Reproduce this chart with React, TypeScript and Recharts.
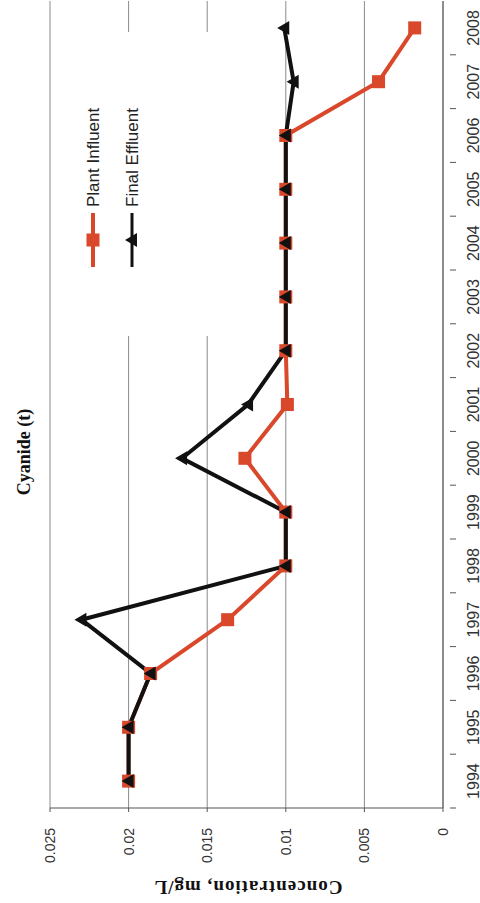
import { LineChart, Line, XAxis, YAxis, CartesianGrid } from "recharts";

// page is a scanned chart turned on its side: years run up the right edge,
// concentration runs right-to-left along the bottom
const years = ["1994", "1995", "1996", "1997", "1998", "1999", "2000", "2001", "2002", "2003", "2004", "2005", "2006", "2007", "2008"];
const plantInfluent = [0.02, 0.02, 0.0186, 0.0137, 0.01, 0.01, 0.0126, 0.0099, 0.01, 0.01, 0.01, 0.01, 0.01, 0.0041, 0.0018];
const finalEffluent = [0.02, 0.02, 0.0186, 0.023, 0.01, 0.01, 0.0166, 0.0124, 0.01, 0.01, 0.01, 0.01, 0.01, 0.0095, 0.0101];
const concTicks = [0, 0.005, 0.01, 0.015, 0.02, 0.025];
const concLabels = ["0", "0.005", "0.01", "0.015", "0.02", "0.025"];

const W = 480;
const H = 903;
const TOP = 1;
const BOTTOM_AXIS = 95;
const RIGHT_AXIS = 37;
const BAND = (H - TOP - BOTTOM_AXIS) / years.length;

const RED = "#D9482B";
const BLACK = "#111111";

const data = years.map((year, i) => ({
  year,
  influent: plantInfluent[i],
  effluent: finalEffluent[i],
}));

const SquareDot = (props: any) => {
  const { cx, cy, index } = props;
  if (cx == null || cy == null) return null;
  return <rect key={"sq" + index} x={cx - 6.5} y={cy - 6.5} width={13} height={13} fill={RED} />;
};

const TriDot = (props: any) => {
  const { cx, cy, index } = props;
  if (cx == null || cy == null) return null;
  return (
    <polygon
      key={"tri" + index}
      points={`${cx - 7},${cy} ${cx + 5},${cy - 7} ${cx + 5},${cy + 7}`}
      fill={BLACK}
    />
  );
};

const YearTick = (props: any) => {
  const { x, y, payload } = props;
  return (
    <g>
      <line x1={x - 1} x2={x + 5} y1={y + BAND / 2} y2={y + BAND / 2} stroke="#555" />
      <text
        transform={`translate(${x + 22},${y}) rotate(-90)`}
        textAnchor="middle"
        dominantBaseline="central"
        fontFamily="Liberation Sans, Arial, sans-serif"
        fontSize={16}
        fill="#333"
      >
        {payload.value}
      </text>
    </g>
  );
};

const ConcTick = (props: any) => {
  const { x, y, payload, index } = props;
  const label = concLabels[concTicks.indexOf(payload.value)] ?? String(payload.value);
  return (
    <text
      key={"c" + index}
      transform={`translate(${x},${y + 14}) rotate(-90)`}
      textAnchor="end"
      dominantBaseline="central"
      fontFamily="Liberation Sans, Arial, sans-serif"
      fontSize={14}
      fill="#333"
    >
      {label}
    </text>
  );
};

export default function App() {
  return (
    <div style={{ position: "absolute", left: 0, top: 0, width: W, height: H, background: "#fff" }}>
      <LineChart
        width={W}
        height={H}
        data={data}
        layout="vertical"
        margin={{ top: TOP, right: 0, bottom: 0, left: 50 }}
      >
        <CartesianGrid horizontal={false} stroke="#8a8a8a" />
        <XAxis
          type="number"
          dataKey="influent"
          domain={[0, 0.025]}
          ticks={concTicks}
          reversed
          height={BOTTOM_AXIS}
          tick={<ConcTick />}
          tickSize={4}
          tickLine={{ stroke: "#555" }}
          axisLine={{ stroke: "#555" }}
          interval={0}
          allowDataOverflow
        />
        <XAxis
          xAxisId="top"
          orientation="top"
          type="number"
          domain={[0, 0.025]}
          reversed
          height={0}
          tick={false}
          tickLine={false}
          axisLine={{ stroke: "#8a8a8a" }}
        />
        <YAxis
          type="category"
          dataKey="year"
          orientation="right"
          scale="band"
          reversed
          width={RIGHT_AXIS}
          tick={<YearTick />}
          tickLine={false}
          axisLine={{ stroke: "#555" }}
          interval={0}
        />
        <Line
          dataKey="influent"
          name="Plant Influent"
          stroke={RED}
          strokeWidth={4}
          dot={<SquareDot />}
          isAnimationActive={false}
        />
        <Line
          dataKey="effluent"
          name="Final Effluent"
          stroke={BLACK}
          strokeWidth={4}
          dot={<TriDot />}
          isAnimationActive={false}
        />
      </LineChart>
      <svg
        width={W}
        height={H}
        style={{ position: "absolute", left: 0, top: 0, pointerEvents: "none" }}
      >
        <rect x={84} y={32} width={130} height={304} fill="#fff" />
        <line x1={93} x2={93} y1={213} y2={267} stroke={RED} strokeWidth={4} />
        <rect x={86.5} y={233.5} width={13} height={13} fill={RED} />
        <text
          transform="translate(93,207) rotate(-90)"
          textAnchor="start"
          dominantBaseline="central"
          fontFamily="Liberation Sans, Arial, sans-serif"
          fontSize={17}
          fill="#222"
        >
          Plant Influent
        </text>
        <line x1={132} x2={132} y1={213} y2={267} stroke={BLACK} strokeWidth={3} />
        <polygon points="125,240 137,233 137,247" fill={BLACK} />
        <text
          transform="translate(132,207) rotate(-90)"
          textAnchor="start"
          dominantBaseline="central"
          fontFamily="Liberation Sans, Arial, sans-serif"
          fontSize={17}
          fill="#222"
        >
          Final Effluent
        </text>
        <text
          transform="translate(24,452) rotate(-90)"
          textAnchor="middle"
          dominantBaseline="central"
          fontFamily="Liberation Serif, Times New Roman, serif"
          fontWeight="bold"
          fontSize={18}
          fill="#111"
        >
          Cyanide (t)
        </text>
        <text
          transform="translate(248,887) rotate(180)"
          textAnchor="middle"
          dominantBaseline="central"
          fontFamily="Liberation Serif, Times New Roman, serif"
          fontWeight="bold"
          fontSize={19}
          letterSpacing={1}
          fill="#111"
        >
          Concentration, mg/L
        </text>
      </svg>
    </div>
  );
}
